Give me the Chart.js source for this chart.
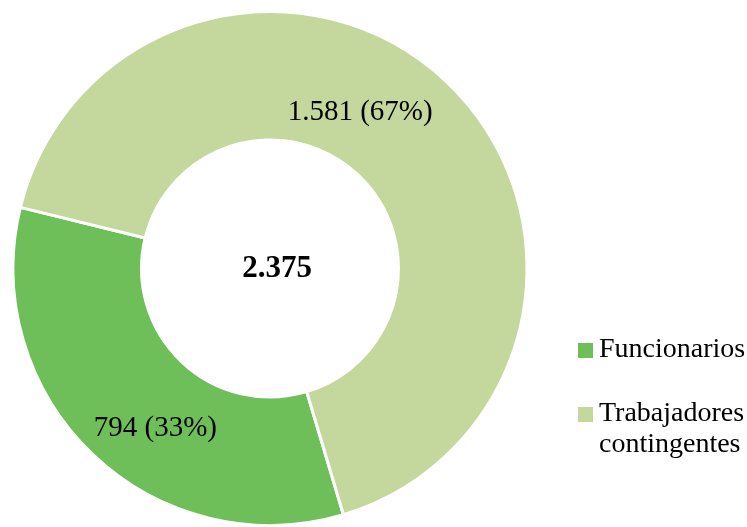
<!DOCTYPE html>
<html>
<head>
<meta charset="utf-8">
<script src="https://cdn.jsdelivr.net/npm/chart.js@4.4.1/dist/chart.umd.min.js"></script>
<style>
  html, body { margin: 0; padding: 0; background: #ffffff; }
  #wrap { position: relative; width: 747px; height: 527px; }
</style>
</head>
<body>
<div id="wrap"><canvas id="c" width="747" height="527"></canvas></div>
<script>
const categories = ['Funcionarios', 'Trabajadores contingentes'];
const values = [794, 1581];
const totalLabel = '2.375';
const colors = ['#6EBE5A', '#C4D79C'];
// label placement within each slice: [fraction along the arc, fraction across the ring]
const labelPlacement = [[0.435, 0.527], [0.4425, 0.412]];

function fmt(n) {
  return String(n).replace(/\B(?=(\d{3})+(?!\d))/g, '.');
}

const sliceLabels = {
  id: 'sliceLabels',
  afterDatasetsDraw(chart) {
    const ctx = chart.ctx;
    const meta = chart.getDatasetMeta(0);
    const data = chart.data.datasets[0].data;
    const total = data.reduce((a, b) => a + b, 0);
    ctx.save();
    ctx.font = '29px "Liberation Serif", "Times New Roman", serif';
    ctx.fillStyle = '#000000';
    ctx.textAlign = 'center';
    ctx.textBaseline = 'middle';
    meta.data.forEach((arc, i) => {
      const p = arc.getProps(['x', 'y', 'startAngle', 'endAngle', 'innerRadius', 'outerRadius'], true);
      const [fa, fr] = labelPlacement[i];
      const a = p.startAngle + fa * (p.endAngle - p.startAngle);
      const r = p.innerRadius + fr * (p.outerRadius - p.innerRadius);
      const pct = Math.round(data[i] / total * 100);
      ctx.fillText(fmt(data[i]) + ' (' + pct + '%)', p.x + Math.cos(a) * r, p.y + Math.sin(a) * r + 1);
    });
    // centre total
    const c = meta.data[0];
    ctx.font = 'bold 31px "Liberation Serif", "Times New Roman", serif';
    ctx.fillText(totalLabel, c.x + 7, c.y);
    ctx.restore();
  }
};

const sideLegend = {
  id: 'sideLegend',
  afterDraw(chart) {
    const ctx = chart.ctx;
    const labels = chart.data.labels;
    const bg = chart.data.datasets[0].backgroundColor;
    const x0 = 578, box = 15, tx = 599;
    const tops = [343, 407];
    const lineH = 31;
    ctx.save();
    ctx.font = '28px "Liberation Serif", "Times New Roman", serif';
    ctx.textAlign = 'left';
    ctx.textBaseline = 'alphabetic';
    labels.forEach((lab, i) => {
      ctx.fillStyle = bg[i];
      ctx.fillRect(x0, tops[i], box, box);
      ctx.fillStyle = '#000000';
      const lines = lab.split(' ');
      lines.forEach((ln, k) => {
        ctx.fillText(ln, tx, tops[i] + 14 + k * lineH);
      });
    });
    ctx.restore();
  }
};

new Chart(document.getElementById('c'), {
  type: 'doughnut',
  data: {
    labels: categories,
    datasets: [{
      data: values,
      backgroundColor: colors,
      borderColor: '#ffffff',
      borderWidth: 3,
      hoverOffset: 0
    }]
  },
  options: {
    responsive: false,
    animation: false,
    cutout: '50%',
    rotation: 163.4,
    layout: { padding: { left: 11.5, top: 10, right: 218.5, bottom: 0 } },
    plugins: {
      legend: { display: false },
      tooltip: { enabled: false }
    }
  },
  plugins: [sliceLabels, sideLegend]
});
</script>
</body>
</html>
